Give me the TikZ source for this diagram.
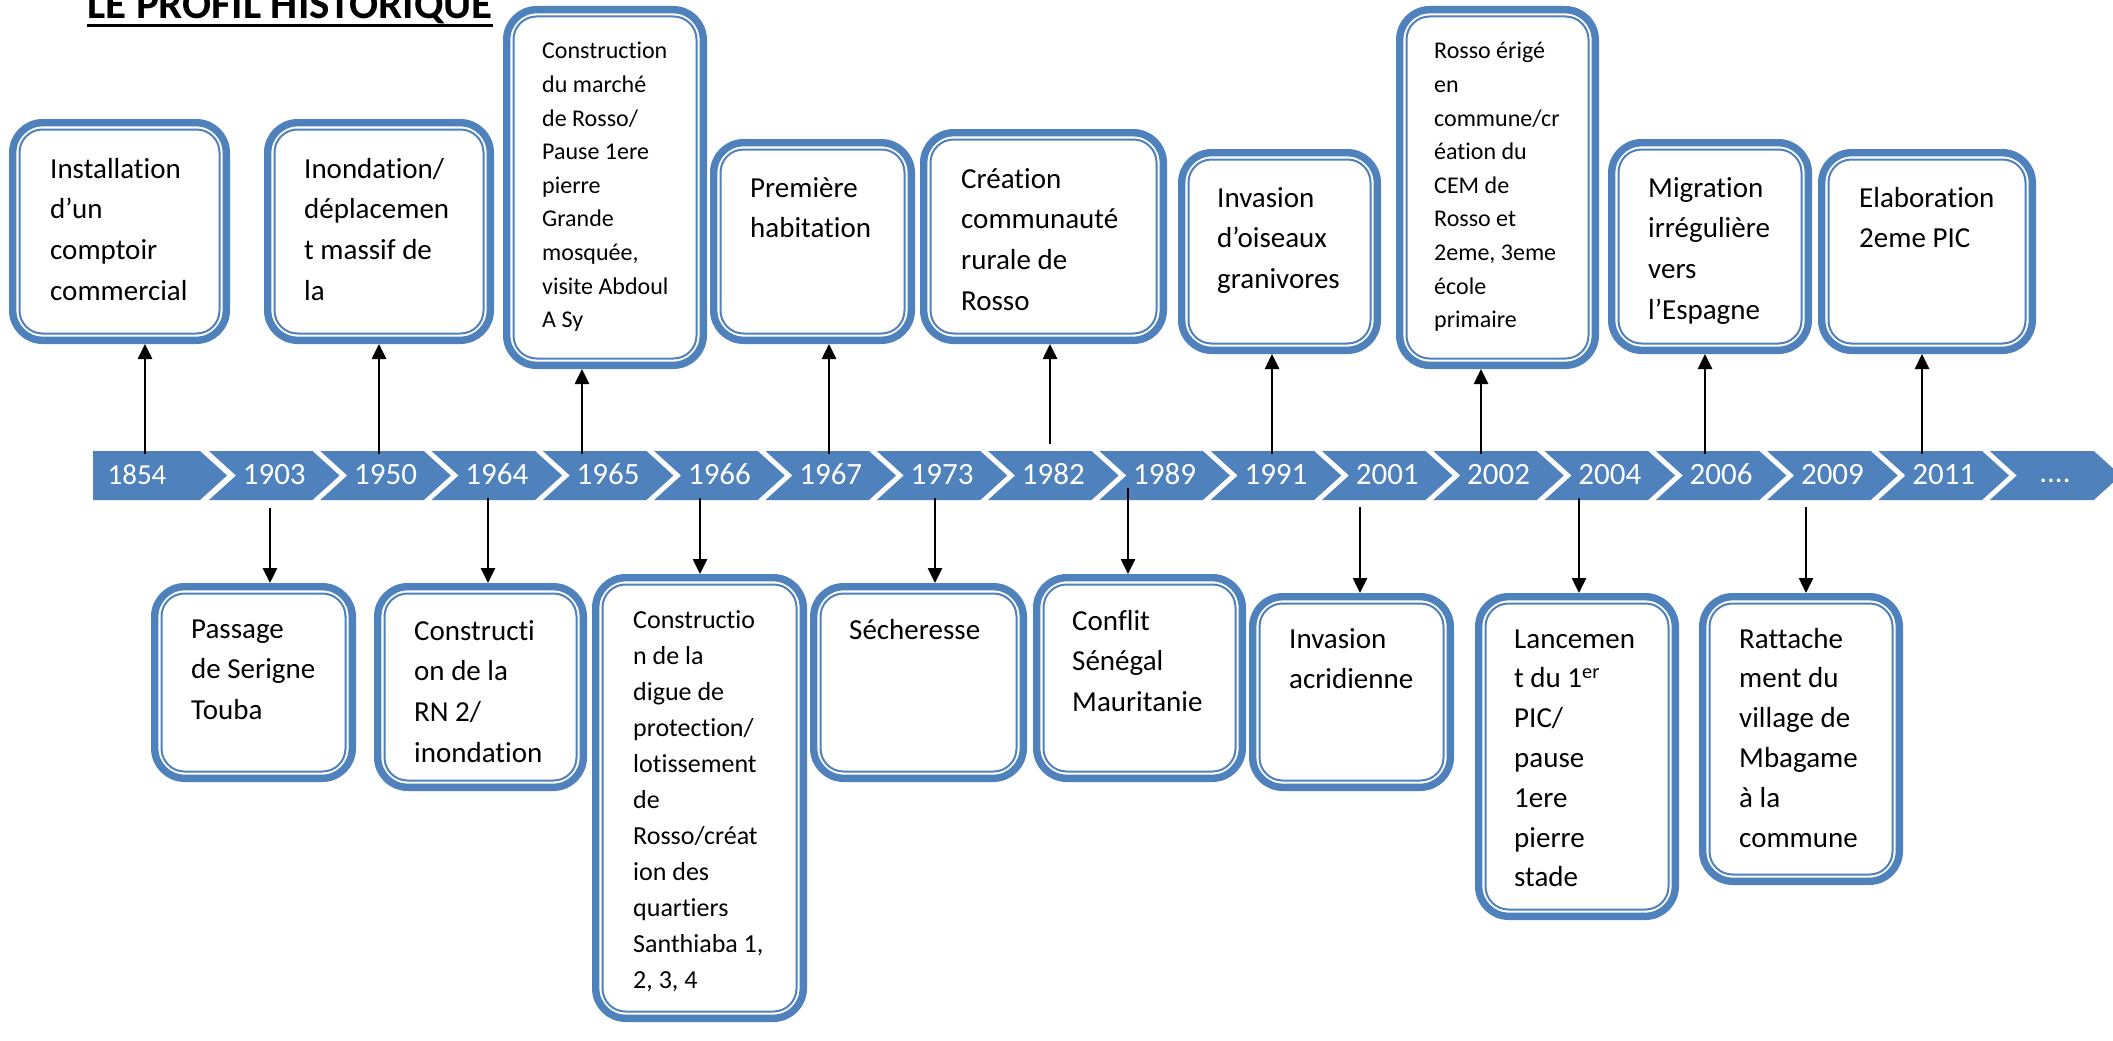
\documentclass[tikz,border=0pt]{standalone}
\usepackage{fontspec}
\setmainfont[Ligatures={NoCommon,NoRare,NoDiscretionary}]{Carlito}
\usetikzlibrary{arrows.meta}
\definecolor{obl}{HTML}{4F81BD}
\newcommand{\evlines}[1]{\parbox[t]{300pt}{\raggedright #1}}
\newcommand{\evnode}[5]{\node[evbox, minimum width={(#4)-(#2)-7.4}, minimum height={(#5)-(#3)-7.4}] (#1) at ({((#2)+(#4))/2},{((#3)+(#5))/2}) {};}
\newcommand{\chev}[2]{\fill[obl] (#1,451) -- ({#1+#2},451) -- ({#1+#2+27},475.5) -- ({#1+#2},500) -- (#1,500) -- ({#1+27},475.5) -- cycle;}
\begin{document}
\begin{tikzpicture}[x=1pt,y=-1pt,
  evbox/.style={draw=obl, line width=7.4pt, rounded corners=30pt, fill=white, inner sep=0pt,
    path picture={\draw[draw=obl, line width=2pt, rounded corners=23pt]
      ([shift={(6.8,6.8)}]path picture bounding box.north west) rectangle
      ([shift={(-6.8,-6.8)}]path picture bounding box.south east);}},
  big/.style={font=\fontsize{29}{40.8}\selectfont, inner sep=0pt, anchor=base west},
  small/.style={font=\fontsize{24}{33.6}\selectfont, inner sep=0pt, anchor=base west},
  mid/.style={font=\fontsize{26}{36}\selectfont, inner sep=0pt, anchor=base west},
  yrs/.style={font=\fontsize{31}{31}\selectfont, text=white, inner sep=0pt, anchor=base},
  arr/.style={line width=2.6pt, -{Triangle[length=15pt,width=14pt]}}
]
\useasboundingbox (0,0) rectangle (2113,1041);
\fill[white] (0,0) rectangle (2113,1041);

% title
\node[font=\fontsize{43}{43}\selectfont\bfseries, inner sep=0pt, anchor=base west] (title) at (87,19) {LE PROFIL HISTORIQUE};
\draw[line width=3pt] ([yshift=-6.5pt]title.base west) -- ([yshift=-6.5pt]title.base east);

% timeline bar
\fill[obl] (93,451) -- (200,451) -- (227,475.5) -- (200,500) -- (93,500) -- cycle;
\foreach \i in {1,...,16} {
  \pgfmathsetmacro\L{209+111.3*(\i-1)}
  \chev{\L}{103.5}
}
\chev{1989.8}{104}
\node[yrs, font=\fontsize{29}{29}\selectfont] (y1854) at (137,484) {1854};
\foreach \yr [count=\i] in {1903,1950,1964,1965,1966,1967,1973,1982,1989,1991,2001,2002,2004,2006,2009,2011} {
  \node[yrs] (y\yr) at ({209+111.3*(\i-1)+65.25},484) {\yr};
}
\node[yrs] (ydots) at (2055,482) {....};

% top boxes
\evnode{t1854}{9}{119}{230}{344}
\evnode{t1950}{264}{119}{494}{344}
\evnode{t1965}{503}{6}{707}{369}
\evnode{t1967}{710}{139}{915}{344}
\evnode{t1982}{920}{129}{1167}{344}
\evnode{t1991}{1178}{149}{1381}{354}
\evnode{t2002}{1396}{6}{1599}{369}
\evnode{t2006}{1608}{139}{1812}{354}
\evnode{t2011}{1818}{149}{2036}{354}

% bottom boxes
\evnode{b1903}{151}{583}{356}{782}
\evnode{b1964}{374}{583}{587}{791}
\evnode{b1966}{592}{574}{807}{1022}
\evnode{b1973}{810}{583}{1027}{782}
\evnode{b1989}{1033}{574}{1246}{782}
\evnode{b2001}{1249}{593}{1454}{791}
\evnode{b2004}{1475}{593}{1679}{920}
\evnode{b2009}{1699}{593}{1903}{885}

% texts top
\node[big] (x1854) at (50,178) {\evlines{Installation\\d’un\\comptoir\\commercial}};
\node[big] (x1950) at (304,178) {\evlines{Inondation/\\déplacemen\\t massif de\\la}};
\node[small] (x1965) at (542,59) {\evlines{Construction\\du marché\\de Rosso/\\Pause 1ere\\pierre\\Grande\\mosquée,\\visite Abdoul\\A Sy}};
\node[big] (x1967) at (750,197) {\evlines{Première\\habitation}};
\node[big] (x1982) at (961,188) {\evlines{Création\\communauté\\rurale de\\Rosso}};
\node[big] (x1991) at (1217,207) {\evlines{Invasion\\d’oiseaux\\granivores}};
\node[small] (x2002) at (1434,59) {\evlines{Rosso érigé\\en\\commune/cr\\éation du\\CEM de\\Rosso et\\2eme, 3eme\\école\\primaire}};
\node[big] (x2006) at (1648,197) {\evlines{Migration\\irrégulière\\vers\\l’Espagne}};
\node[big] (x2011) at (1859,207) {\evlines{Elaboration\\2eme PIC}};

% texts bottom
\node[big] (x1903) at (191,638) {\evlines{Passage\\de Serigne\\Touba}};
\node[big] (x1964) at (414,640) {\evlines{Constructi\\on de la\\RN 2/\\inondation}};
\node[mid] (x1966) at (633,628) {\evlines{Constructio\\n de la\\digue de\\protection/\\lotissement\\de\\Rosso/créat\\ion des\\quartiers\\Santhiaba 1,\\2, 3, 4}};
\node[big] (x1973) at (849,639) {\evlines{Sécheresse}};
\node[big] (x1989) at (1072,630) {\evlines{Conflit\\Sénégal\\Mauritanie}};
\node[big] (x2001) at (1289,648) {\evlines{Invasion\\acridienne}};
\node[big, font=\fontsize{29}{39.8}\selectfont] (x2004) at (1514,648) {\evlines{Lancemen\\t du 1\textsuperscript{er}\\PIC/\\pause\\1ere\\pierre\\stade}};
\node[big, font=\fontsize{29}{39.8}\selectfont] (x2009) at (1739,648) {\evlines{Rattache\\ment du\\village de\\Mbagame\\à la\\commune}};

% arrows up
\coordinate (s1854) at (145,454);
\coordinate (s1950) at (379,454);
\coordinate (s1965) at (582,454);
\coordinate (s1967) at (829,454);
\coordinate (s1982) at (1050,444);
\coordinate (s1991) at (1272,454);
\coordinate (s2002) at (1481,454);
\coordinate (s2006) at (1705,454);
\coordinate (s2011) at (1922,454);
\foreach \n in {1854,1950,1965,1967,1982,1991,2002,2006,2011} {
  \draw[arr] (s\n) -- (s\n |- t\n.south);
}

% arrows down
\coordinate (s1903) at (270,508);
\coordinate (s1964) at (488,498);
\coordinate (s1966) at (700,498);
\coordinate (s1973) at (935,498);
\coordinate (s1989) at (1128,488);
\coordinate (s2001) at (1360,507);
\coordinate (s2004) at (1579,498);
\coordinate (s2009) at (1806,507);
\foreach \n in {1903,1964,1966,1973,1989,2001,2004,2009} {
  \draw[arr] (s\n) -- (s\n |- b\n.north);
}
\end{tikzpicture}
\end{document}
